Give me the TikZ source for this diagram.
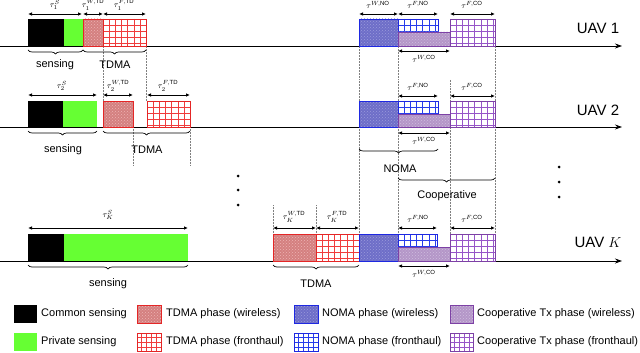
\documentclass[tikz,border=0pt]{standalone}
\usepackage{fontspec}
\setmainfont{Liberation Sans}
\usetikzlibrary{arrows.meta,patterns,decorations.pathreplacing}
\definecolor{cred}{RGB}{228,38,38}
\definecolor{credfill}{RGB}{212,128,128}
\definecolor{creddot}{RGB}{238,180,180}
\definecolor{credgrid}{RGB}{240,60,60}
\definecolor{cblue}{RGB}{30,40,225}
\definecolor{cbluefill}{RGB}{110,110,200}
\definecolor{cbluedot}{RGB}{155,155,220}
\definecolor{cbluegrid}{RGB}{40,60,235}
\definecolor{cpur}{RGB}{125,65,165}
\definecolor{cpurfill}{RGB}{180,150,200}
\definecolor{cpurdot}{RGB}{208,190,222}
\definecolor{cpurgrid}{RGB}{150,85,200}
\definecolor{cgreen}{RGB}{102,255,51}
\newcommand\mkFH[7]{%
  \fill[white] (#1,#2) rectangle (#3,#4);
  \begin{scope}
    \clip (#1,#2) rectangle (#3,#4);
    \foreach \gx in {0,#7,...,80} {\draw[#5, line width=0.8pt] ({#1+\gx},#2) -- ({#1+\gx},#4);}
    \foreach \gy in {0,#7,...,40} {\draw[#5, line width=0.8pt] (#1,{#2+\gy}) -- (#3,{#2+\gy});}
  \end{scope}
  \draw[#6, line width=0.9pt] (#1,#2) rectangle (#3,#4);
}
\newcommand\mkWL[7]{%
  \fill[#5] (#1,#2) rectangle (#3,#4);
  \fill[pattern=crosshatch dots, pattern color=#6] (#1,#2) rectangle (#3,#4);
  \draw[#7, line width=0.9pt] (#1,#2) rectangle (#3,#4);
}
\tikzset{
  axisline/.style={-{Stealth[length=7pt,width=5pt]}, line width=0.8pt},
  dimarrow/.style={{Latex[length=4pt,width=3.5pt]}-{Latex[length=4pt,width=3.5pt]}, line width=0.8pt},
  vdotline/.style={gray, densely dotted, line width=0.5pt},
  brc/.style={decorate, decoration={brace, mirror, amplitude=4pt}, line width=0.7pt},
  taulbl/.style={font=\footnotesize, inner sep=0pt},
  lbl/.style={font=\fontsize{11}{13}\selectfont, inner sep=0pt},
  uavlbl/.style={font=\fontsize{15}{18}\selectfont, inner sep=0pt},
  leglbl/.style={font=\fontsize{11}{13}\selectfont, inner sep=0pt, anchor=west},
  vdotdot/.style={circle, fill=black, inner sep=0pt, minimum size=3pt}
}
\begin{document}
\begin{tikzpicture}[x=1pt,y=-1pt]
\useasboundingbox[fill=white] (0,0) rectangle (640,353);
% dotted guide lines
\draw[vdotline] (103,46) -- (103,101);
\draw[vdotline] (146,46) -- (146,101);
\draw[vdotline] (133,127) -- (133,165);
\draw[vdotline] (190,127) -- (190,165);
\draw[vdotline] (273,205) -- (273,234);
\draw[vdotline] (316,205) -- (316,234);
\draw[vdotline] (359,46) -- (359,234);
\draw[vdotline] (398,46) -- (398,234);
\draw[vdotline] (450,80) -- (450,234);
\draw[vdotline] (495,46) -- (495,234);
% axes
\draw[axisline] (0,46) -- (622,46);
\draw[axisline] (0,127) -- (622,127);
\draw[axisline] (0,261) -- (622,261);
% UAV 1
\fill[black] (28,19) rectangle (64,46);
\fill[cgreen] (64,19) rectangle (83,46);
\mkWL{83}{19}{103}{46}{credfill}{creddot}{cred}
\mkFH{103}{19}{146}{46}{credgrid}{cred}{6.2}
\mkWL{359}{19}{398}{46}{cbluefill}{cbluedot}{cblue}
\mkFH{398}{19}{438}{32}{cbluegrid}{cblue}{6.2}
\mkWL{398}{32}{450}{46}{cpurfill}{cpurdot}{cpur}
\mkFH{450}{19}{495}{46}{cpurgrid}{cpur}{6.2}
% UAV 2
\fill[black] (28,101) rectangle (63,127);
\fill[cgreen] (63,101) rectangle (97,127);
\mkWL{103}{101}{133}{127}{credfill}{creddot}{cred}
\mkFH{147}{101}{190}{127}{credgrid}{cred}{6.2}
\mkWL{359}{101}{398}{127}{cbluefill}{cbluedot}{cblue}
\mkFH{398}{101}{438}{114}{cbluegrid}{cblue}{6.2}
\mkWL{398}{114}{450}{127}{cpurfill}{cpurdot}{cpur}
\mkFH{450}{101}{495}{127}{cpurgrid}{cpur}{6.2}
% UAV K
\fill[black] (28,234) rectangle (64,261);
\fill[cgreen] (64,234) rectangle (188,261);
\mkWL{273}{234}{316}{261}{credfill}{creddot}{cred}
\mkFH{316}{234}{359}{261}{credgrid}{cred}{6.2}
\mkWL{359}{234}{398}{261}{cbluefill}{cbluedot}{cblue}
\mkFH{398}{234}{437}{247}{cbluegrid}{cblue}{6.2}
\mkWL{398}{247}{450}{261}{cpurfill}{cpurdot}{cpur}
\mkFH{450}{234}{495}{261}{cpurgrid}{cpur}{6.2}
% dimension arrows UAV 1
\draw[dimarrow] (28,14) -- (82,14);
\draw[dimarrow] (83,14) -- (103,14);
\draw[dimarrow] (103,14) -- (146,14);
\draw[dimarrow] (359,14) -- (398,14);
\draw[dimarrow] (398,14) -- (438,14);
\draw[dimarrow] (450,14) -- (495,14);
\draw[dimarrow] (398,51) -- (450,51);
\node[taulbl] (t1s) at (55,5) {$\tau_1^{S}$};
\node[taulbl] (t1wtd) at (93,5) {$\tau_1^{W,\mathrm{TD}}$};
\node[taulbl] (t1ftd) at (124,5) {$\tau_1^{F,\mathrm{TD}}$};
\node[taulbl] (t1wno) at (378,5) {$\tau^{W,\mathrm{NO}}$};
\node[taulbl] (t1fno) at (418,5) {$\tau^{F,\mathrm{NO}}$};
\node[taulbl] (t1fco) at (472,5) {$\tau^{F,\mathrm{CO}}$};
\node[taulbl] (t1wco) at (424,59) {$\tau^{W,\mathrm{CO}}$};
% dimension arrows UAV 2
\draw[dimarrow] (28,95) -- (97,95);
\draw[dimarrow] (103,95) -- (133,95);
\draw[dimarrow] (147,95) -- (190,95);
\draw[dimarrow] (398,96) -- (438,96);
\draw[dimarrow] (450,96) -- (495,96);
\draw[dimarrow] (398,133) -- (450,133);
\node[taulbl] (t2s) at (62,86) {$\tau_2^{S}$};
\node[taulbl] (t2wtd) at (118,86) {$\tau_2^{W,\mathrm{TD}}$};
\node[taulbl] (t2ftd) at (168,86) {$\tau_2^{F,\mathrm{TD}}$};
\node[taulbl] (t2fno) at (418,87) {$\tau^{F,\mathrm{NO}}$};
\node[taulbl] (t2fco) at (472,87) {$\tau^{F,\mathrm{CO}}$};
\node[taulbl] (t2wco) at (424,141) {$\tau^{W,\mathrm{CO}}$};
% dimension arrows UAV K
\draw[dimarrow] (28,228) -- (188,228);
\draw[dimarrow] (273,228) -- (316,228);
\draw[dimarrow] (316,228) -- (359,228);
\draw[dimarrow] (398,228) -- (437,228);
\draw[dimarrow] (450,228) -- (495,228);
\draw[dimarrow] (398,266) -- (450,266);
\node[taulbl] (tks) at (108,215) {$\tau_K^{S}$};
\node[taulbl] (tkwtd) at (294,217) {$\tau_K^{W,\mathrm{TD}}$};
\node[taulbl] (tkftd) at (337,217) {$\tau_K^{F,\mathrm{TD}}$};
\node[taulbl] (tkfno) at (418,219) {$\tau^{F,\mathrm{NO}}$};
\node[taulbl] (tkfco) at (472,219) {$\tau^{F,\mathrm{CO}}$};
\node[taulbl] (tkwco) at (424,274) {$\tau^{W,\mathrm{CO}}$};
% braces
\draw[brc] (28,50) -- (83,50);
\node[lbl] (s1) at (55,65) {sensing};
\draw[brc] (83,50) -- (146,50);
\node[lbl] (td1) at (115,65) {TDMA};
\draw[brc] (28,131) -- (97,131);
\node[lbl] (s2) at (63,150) {sensing};
\draw[brc] (103,131) -- (190,131);
\node[lbl] (td2) at (147,150) {TDMA};
\draw[brc] (28,265) -- (188,265);
\node[lbl] (sk) at (108,284) {sensing};
\draw[brc] (273,265) -- (359,265);
\node[lbl] (tdk) at (316,284) {TDMA};
\draw[brc] (359,149) -- (438,149);
\node[lbl] (noma) at (400,169) {NOMA};
\draw[brc] (398,178) -- (495,178);
\node[lbl] (coop) at (447,196) {Cooperative};
% UAV labels
\node[uavlbl] (u1) at (598,28) {UAV 1};
\node[uavlbl] (u2) at (598,110) {UAV 2};
\node[uavlbl] (uk) at (598,242) {UAV $K$};
% vertical dots
\node[vdotdot] (d1) at (238,176) {};
\node[vdotdot] (d2) at (238,190) {};
\node[vdotdot] (d3) at (238,205) {};
\node[vdotdot] (d4) at (559,167) {};
\node[vdotdot] (d5) at (559,182) {};
\node[vdotdot] (d6) at (559,197) {};
% legend
\fill[black] (14,305) rectangle (37,323);
\node[leglbl] (l1) at (41,314) {Common sensing};
\fill[cgreen] (14,333) rectangle (37,351);
\node[leglbl] (l2) at (41,342) {Private sensing};
\mkWL{137}{305}{161}{323}{credfill}{creddot}{cred}
\node[leglbl] (l3) at (166,314) {TDMA phase (wireless)};
\mkFH{137}{333}{161}{351}{credgrid}{cred}{4.8}
\node[leglbl] (l4) at (166,342) {TDMA phase (fronthaul)};
\mkWL{294}{305}{318}{323}{cbluefill}{cbluedot}{cblue}
\node[leglbl] (l5) at (322,314) {NOMA phase (wireless)};
\mkFH{294}{333}{318}{351}{cbluegrid}{cblue}{4.8}
\node[leglbl] (l6) at (322,342) {NOMA phase (fronthaul)};
\mkWL{450}{305}{473}{323}{cpurfill}{cpurdot}{cpur}
\node[leglbl] (l7) at (477,314) {Cooperative Tx phase (wireless)};
\mkFH{450}{333}{473}{351}{cpurgrid}{cpur}{4.8}
\node[leglbl] (l8) at (477,342) {Cooperative Tx phase (fronthaul)};
\end{tikzpicture}
\end{document}
